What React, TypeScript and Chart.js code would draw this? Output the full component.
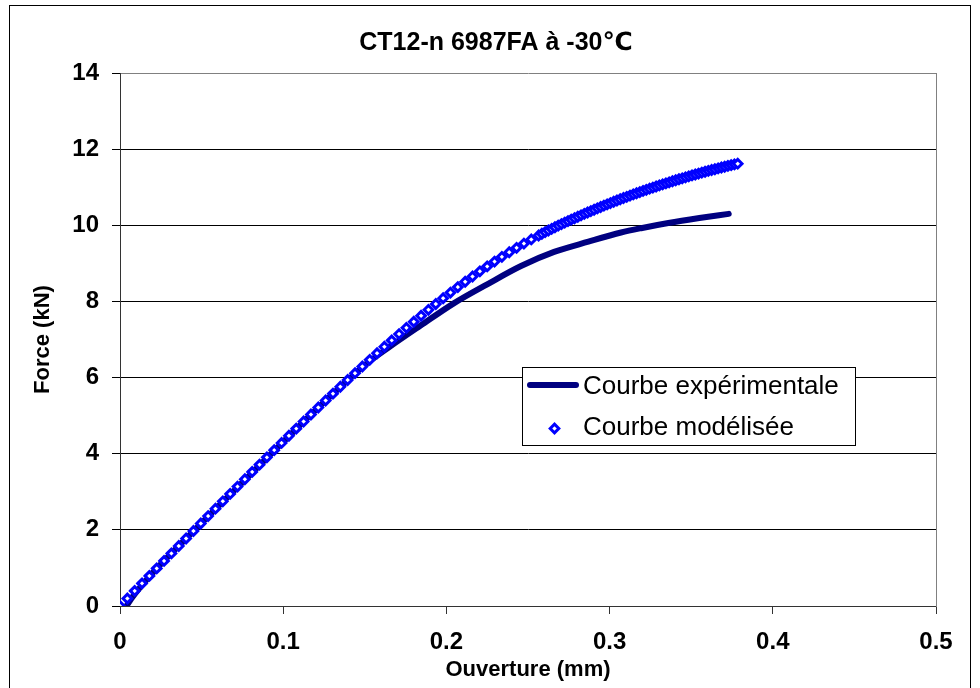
import React, { useEffect, useRef } from 'react';
import { Chart, registerables } from 'chart.js';

Chart.register(...registerables);

const chartTitle = 'CT12-n 6987FA à -30℃';
const xAxisTitle = 'Ouverture (mm)';
const yAxisTitle = 'Force (kN)';
const seriesNames = ['Courbe expérimentale', 'Courbe modélisée'];
const xTickLabels = ['0', '0.1', '0.2', '0.3', '0.4', '0.5'];
const yTickLabels = ['0', '2', '4', '6', '8', '10', '12', '14'];

const expX = [0.004, 0.007, 0.02, 0.04, 0.06, 0.08, 0.1, 0.12, 0.14, 0.15, 0.165, 0.184, 0.2045, 0.225, 0.2457, 0.266, 0.287, 0.307, 0.32, 0.336, 0.355, 0.373];
const expY = [0, 0.2, 0.87, 1.75, 2.61, 3.46, 4.31, 5.15, 5.95, 6.33, 6.8, 7.36, 7.95, 8.45, 8.93, 9.3, 9.57, 9.81, 9.93, 10.06, 10.19, 10.3];

const modelX = [
  0, 0.0045, 0.009, 0.0135, 0.018, 0.0225, 0.027, 0.0315, 0.036, 0.0405, 0.045, 0.0495,
  0.054, 0.0585, 0.063, 0.0675, 0.072, 0.0765, 0.081, 0.0855, 0.09, 0.0945, 0.099,
  0.1035, 0.108, 0.1125, 0.117, 0.1215, 0.126, 0.1305, 0.135, 0.1395, 0.144, 0.1485,
  0.153, 0.1575, 0.162, 0.1665, 0.171, 0.1755, 0.18, 0.1845, 0.189, 0.1935, 0.198,
  0.2025, 0.207, 0.2115, 0.216, 0.2205, 0.225, 0.2295, 0.234, 0.2385,
  0.243, 0.2475, 0.252, 0.2565,
  0.2585, 0.2605, 0.2625, 0.2645, 0.2665, 0.2685,
  0.2705, 0.2725, 0.2745, 0.2765, 0.2785, 0.2805, 0.2825, 0.2845, 0.2865, 0.2885, 0.2905, 0.2925, 0.2945, 0.2965, 0.2985,
  0.3005, 0.3025, 0.3045, 0.3065, 0.3085, 0.3105, 0.3125, 0.3145, 0.3165, 0.3185, 0.3205, 0.3225, 0.3245, 0.3265, 0.3285,
  0.3305, 0.3325, 0.3345, 0.3365, 0.3385, 0.3405, 0.3425, 0.3445, 0.3465, 0.3485, 0.3505, 0.3525, 0.3545, 0.3565, 0.3585,
  0.3605, 0.3625, 0.3645, 0.3665, 0.3685, 0.3705, 0.3725, 0.3745, 0.3765, 0.3785,
];
const modelY = [
  0, 0.198, 0.396, 0.594, 0.79, 0.987, 1.184, 1.381, 1.577, 1.774, 1.97, 2.166,
  2.361, 2.556, 2.75, 2.944, 3.137, 3.33, 3.522, 3.713, 3.904, 4.094, 4.283,
  4.472, 4.659, 4.845, 5.03, 5.214, 5.397, 5.578, 5.758, 5.937, 6.115, 6.291,
  6.466, 6.639, 6.809, 6.977, 7.143, 7.306, 7.466, 7.624, 7.78, 7.933, 8.084,
  8.232, 8.377, 8.518, 8.656, 8.79, 8.92, 9.047, 9.171, 9.291,
  9.407, 9.519, 9.628, 9.732,
  9.777, 9.821, 9.864, 9.907, 9.949, 9.99,
  10.03, 10.07, 10.109, 10.148, 10.186, 10.225, 10.262, 10.3, 10.336, 10.373, 10.409, 10.445, 10.48, 10.515, 10.549,
  10.583, 10.617, 10.65, 10.683, 10.716, 10.748, 10.78, 10.811, 10.842, 10.872, 10.902, 10.932, 10.961, 10.99, 11.019,
  11.047, 11.075, 11.102, 11.129, 11.156, 11.182, 11.209, 11.234, 11.26, 11.285, 11.31, 11.334, 11.358, 11.382, 11.405,
  11.428, 11.451, 11.473, 11.495, 11.517, 11.538, 11.559, 11.579, 11.599, 11.618,
];

const FONT = '"Liberation Sans", Arial, "DejaVu Sans", sans-serif';
const EXP_COLOR = '#000080';
const MODEL_COLOR = '#0000FF';

const decorPlugin = {
  id: 'decor',
  beforeDraw(chart: any) {
    const ctx = chart.ctx;
    ctx.save();
    ctx.fillStyle = '#ffffff';
    ctx.fillRect(0, 0, chart.width, chart.height);
    ctx.strokeStyle = '#000000';
    ctx.lineWidth = 1;
    ctx.strokeRect(9.5, 5.5, 961, 720);
    ctx.restore();
  },
  afterDraw(chart: any) {
    const ctx = chart.ctx;
    ctx.save();
    const bx = 522.5, by = 367.5, bw = 333, bh = 78;
    ctx.fillStyle = '#ffffff';
    ctx.fillRect(bx, by, bw, bh);
    ctx.strokeStyle = '#000000';
    ctx.lineWidth = 1;
    ctx.strokeRect(bx, by, bw, bh);
    ctx.strokeStyle = EXP_COLOR;
    ctx.lineWidth = 6;
    ctx.lineCap = 'round';
    ctx.beginPath();
    ctx.moveTo(530, 385);
    ctx.lineTo(576, 385);
    ctx.stroke();
    ctx.strokeStyle = MODEL_COLOR;
    ctx.fillStyle = '#ffffff';
    ctx.lineWidth = 3;
    ctx.lineCap = 'butt';
    const cx = 554.5, cy = 428.5, r = 4.3;
    ctx.beginPath();
    ctx.moveTo(cx - r, cy);
    ctx.lineTo(cx, cy - r);
    ctx.lineTo(cx + r, cy);
    ctx.lineTo(cx, cy + r);
    ctx.closePath();
    ctx.fill();
    ctx.stroke();
    ctx.fillStyle = '#000000';
    ctx.font = `26px ${FONT}`;
    ctx.textAlign = 'left';
    ctx.textBaseline = 'middle';
    ctx.fillText(seriesNames[0], 583, 387);
    ctx.fillText(seriesNames[1], 583, 428);
    ctx.restore();
  },
};

export default function App() {
  const canvasRef = useRef<HTMLCanvasElement | null>(null);

  useEffect(() => {
    const canvas = canvasRef.current;
    if (!canvas) return;
    const tickFont = { family: FONT, size: 24, weight: 'bold' as const };
    const axisTitleFont = { family: FONT, size: 22, weight: 'bold' as const };
    const chart = new Chart(canvas, {
      type: 'scatter',
      data: {
        datasets: [
          {
            label: seriesNames[1],
            data: modelX.map((x, i) => ({ x, y: modelY[i] })),
            showLine: false,
            pointStyle: 'rectRot',
            pointRadius: 4.3,
            pointBorderWidth: 3,
            pointBorderColor: MODEL_COLOR,
            pointBackgroundColor: '#ffffff',
            order: 0,
          },
          {
            label: seriesNames[0],
            data: expX.map((x, i) => ({ x, y: expY[i] })),
            showLine: true,
            borderColor: EXP_COLOR,
            borderWidth: 6,
            borderCapStyle: 'round',
            borderJoinStyle: 'round',
            cubicInterpolationMode: 'monotone',
            pointRadius: 0,
            order: 1,
          },
        ],
      },
      options: {
        responsive: false,
        animation: false,
        devicePixelRatio: 1,
        layout: { padding: { left: 12, right: 0, top: 0, bottom: 0 } },
        plugins: {
          legend: { display: false },
          tooltip: { enabled: false },
          title: {
            display: true,
            text: chartTitle,
            color: '#000000',
            font: { family: FONT, size: 25, weight: 'bold' },
            padding: { top: 28, bottom: 15 },
          },
        },
        scales: {
          x: {
            type: 'linear',
            min: 0,
            max: 0.5,
            afterFit(scale: any) {
              scale.height = 82;
            },
            ticks: {
              stepSize: 0.1,
              color: '#000000',
              font: tickFont,
              padding: 14,
              maxRotation: 0,
              autoSkip: false,
              callback: (_v: any, i: number) => xTickLabels[i],
            },
            grid: { drawOnChartArea: false, drawTicks: true, tickLength: 8, color: '#333333' },
            border: { color: '#333333', width: 1 },
            title: {
              display: true,
              text: xAxisTitle,
              color: '#000000',
              font: axisTitleFont,
              padding: { top: 0, bottom: 5 },
            },
          },
          y: {
            type: 'linear',
            min: 0,
            max: 14,
            afterFit(scale: any) {
              scale.width = 108;
            },
            ticks: {
              stepSize: 2,
              color: '#000000',
              font: tickFont,
              padding: 13,
              callback: (_v: any, i: number) => yTickLabels[i],
            },
            grid: {
              color: (c: any) => (c.tick && c.tick.value === 14 ? '#808080' : '#000000'),
              tickColor: '#000000',
              tickLength: 8,
              lineWidth: 1,
            },
            border: { color: '#333333', width: 1 },
            title: {
              display: true,
              text: yAxisTitle,
              color: '#000000',
              font: axisTitleFont,
              padding: { top: 18, bottom: 0 },
            },
          },
          y2: {
            type: 'linear',
            position: 'right',
            min: 0,
            max: 14,
            afterFit(scale: any) {
              scale.width = 44;
            },
            ticks: { display: false },
            grid: { drawOnChartArea: false, drawTicks: false },
            border: { display: true, color: '#808080', width: 1 },
          },
        },
      },
      plugins: [decorPlugin],
    });
    return () => chart.destroy();
  }, []);

  return (
    <div style={{ position: 'absolute', left: 0, top: 0, width: 980, height: 688 }}>
      <canvas ref={canvasRef} width={980} height={688} style={{ display: 'block', width: 980, height: 688 }} />
    </div>
  );
}
